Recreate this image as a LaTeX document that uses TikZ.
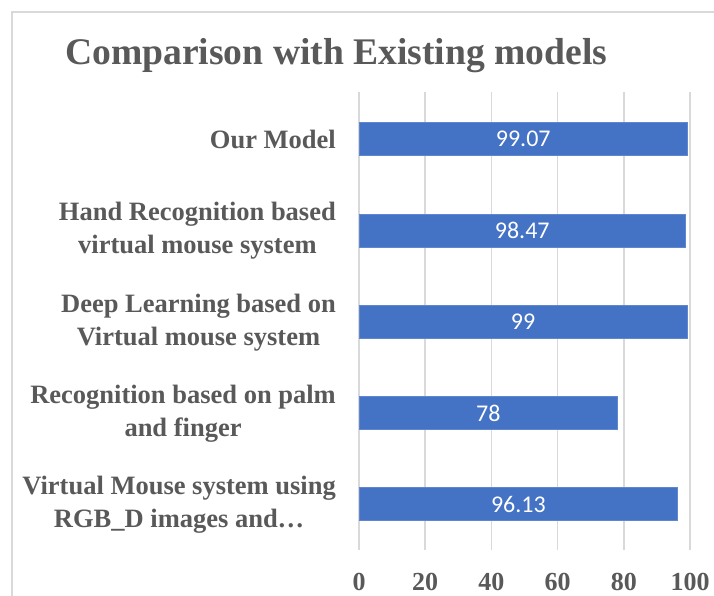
\documentclass[tikz,border=0pt]{standalone}
\usepackage{fontspec}
\setmainfont{Liberation Serif}
\newfontfamily\barfont{Carlito}
\definecolor{txtgray}{HTML}{595959}
\definecolor{gridgray}{HTML}{D9D9D9}
\definecolor{barblue}{HTML}{4472C4}
\begin{document}
\begin{tikzpicture}[x=1pt,y=-1pt,
  catlabel/.style={anchor=east, align=center, inner sep=0pt, text=txtgray,
    font=\bfseries\fontsize{26.5}{33}\selectfont},
  ticklabel/.style={anchor=base, inner sep=0pt, text=txtgray,
    font=\bfseries\fontsize{26}{28}\selectfont},
  barbox/.style={anchor=west, fill=barblue, draw=barblue!85!white, line width=0.6pt,
    minimum height=33pt, inner sep=0pt, text=white,
    font=\barfont\fontsize{24}{28}\selectfont},
  gridline/.style={draw=gridgray, line width=1.5pt},
  frameline/.style={draw=gridgray, line width=2pt}]
\useasboundingbox[fill=white] (0,0) rectangle (714,596);
% chart frame
\coordinate (fbl) at (12,600);
\coordinate (ftl) at (12,12);
\coordinate (ftr) at (716,12);
\draw[frameline] (fbl) -- (ftl) -- (ftr);
% title
\node[anchor=base west, inner sep=0pt, text=txtgray,
  font=\bfseries\fontsize{37.6}{44}\selectfont] (title) at (65,65) {Comparison with Existing models};
% grid lines
\foreach \v/\x in {0/359,20/425.2,40/491.4,60/557.6,80/623.8,100/690}{
  \coordinate (gt\v) at (\x,92);
  \coordinate (gb\v) at (\x,550);
  \draw[gridline] (gt\v) -- (gb\v);
  \node[ticklabel] (tick\v) at (\x,590) {\v};
}
% bars
\node[barbox, minimum width=327.9pt] (bar1) at (359,139) {99.07};
\node[barbox, minimum width=325.9pt] (bar2) at (359,230.3) {98.47};
\node[barbox, minimum width=327.7pt] (bar3) at (359,321.6) {99};
\node[barbox, minimum width=258.2pt] (bar4) at (359,412.9) {78};
\node[barbox, minimum width=318.2pt] (bar5) at (359,504.2) {96.13};
% category labels
\node[catlabel] (cat1) at (336,139) {Our Model};
\node[catlabel] (cat2) at (336,231) {Hand Recognition based\\virtual mouse system};
\node[catlabel] (cat3) at (336,322.5) {Deep Learning based on\\Virtual mouse system};
\node[catlabel] (cat4) at (336,414) {Recognition based on palm\\and finger};
\node[catlabel] (cat5) at (336,505) {Virtual Mouse system using\\RGB\_D images and…};
\end{tikzpicture}
\end{document}
